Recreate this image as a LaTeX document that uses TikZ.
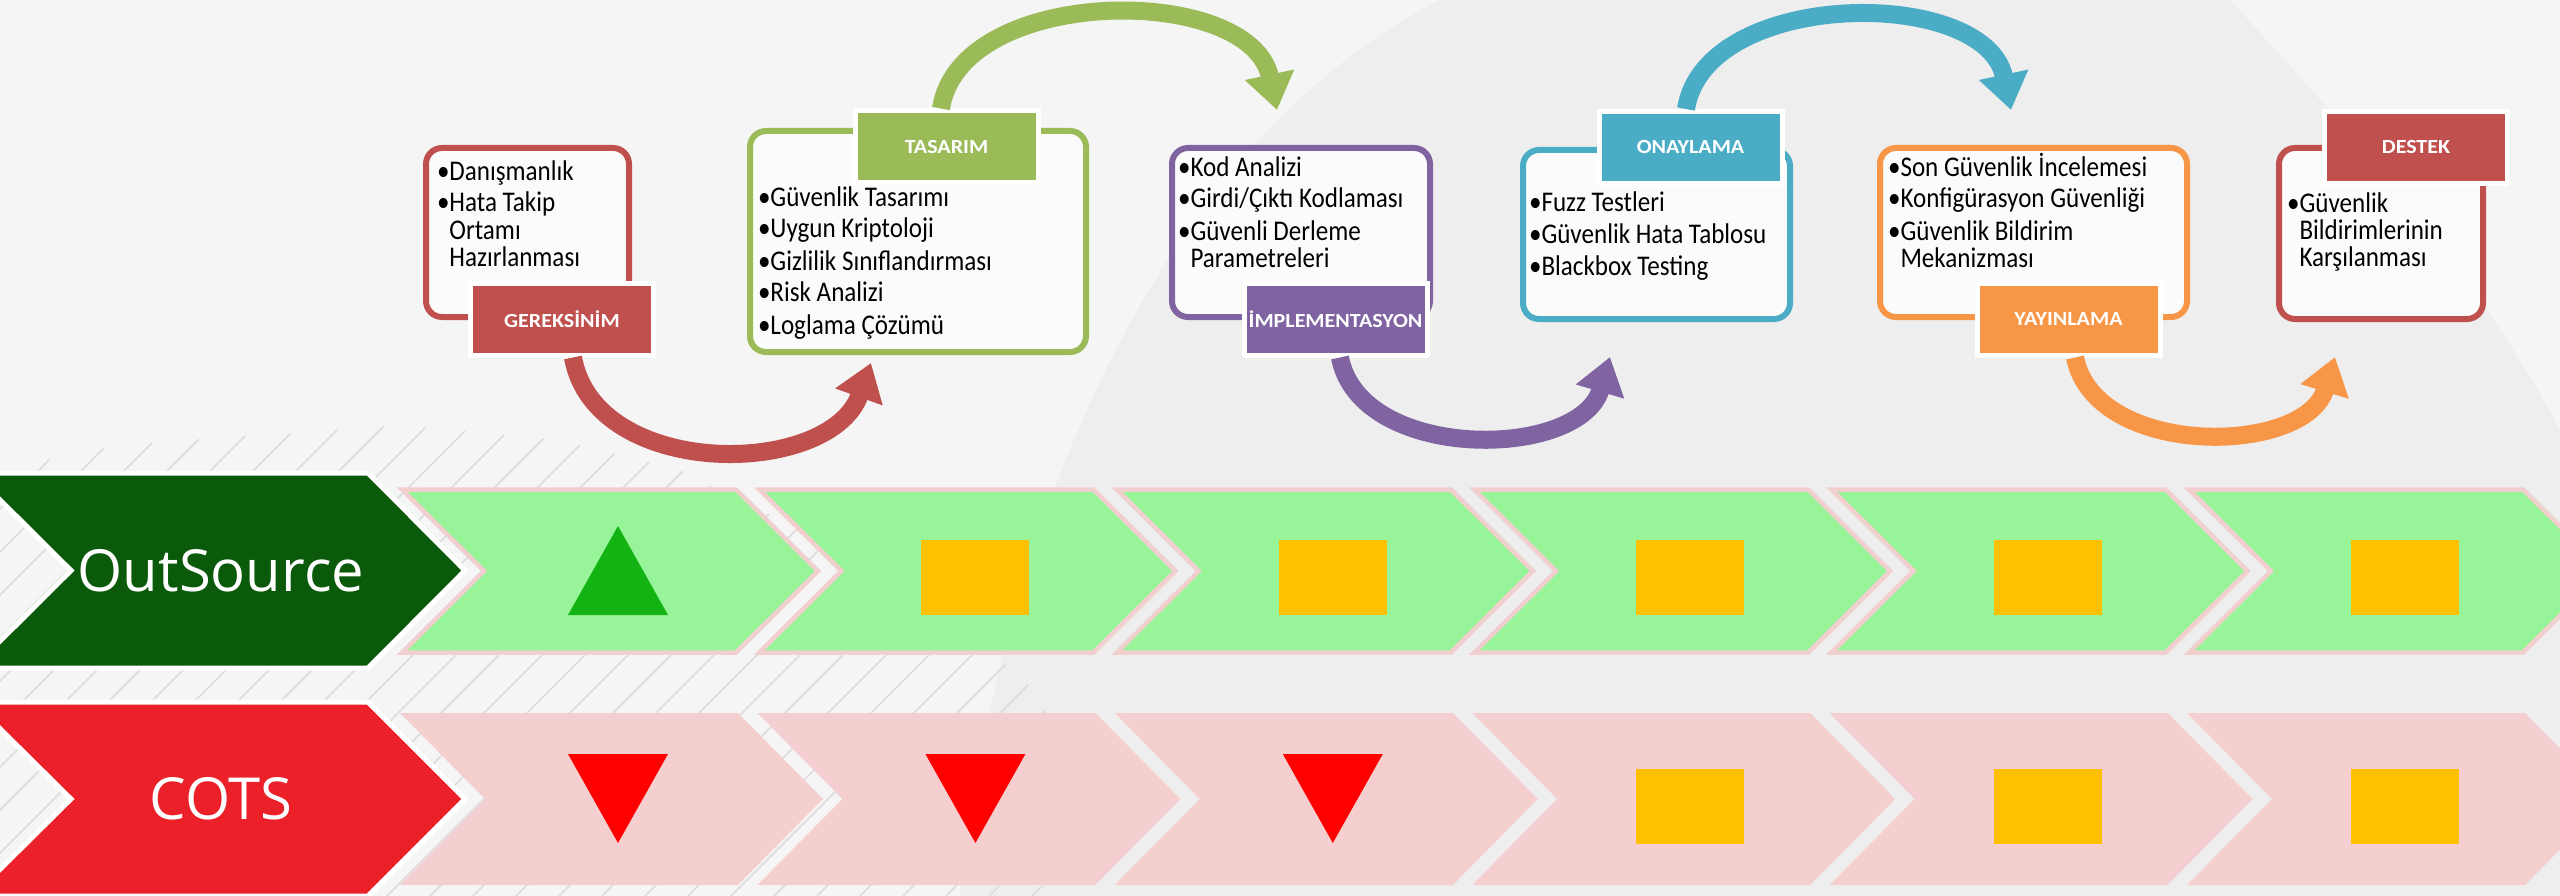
\documentclass[tikz,border=0pt]{standalone}
\usepackage{fontspec}
\setmainfont{Carlito}
\newfontfamily\itemfont[FakeStretch=0.88]{Carlito}
\newfontfamily\tagfont[FakeStretch=1.1]{Carlito}
\newfontfamily\rowfont{Open Sans}
\usetikzlibrary{arrows.meta}

\definecolor{bgback}{HTML}{F5F5F5}
\definecolor{bgdark}{HTML}{EEEEEE}
\definecolor{hatchgray}{HTML}{DCDCDC}
\definecolor{boxfill}{HTML}{FBFBFB}
\definecolor{reqred}{HTML}{C0504D}
\definecolor{desgreen}{HTML}{9BBB59}
\definecolor{impurple}{HTML}{8064A2}
\definecolor{valblue}{HTML}{4BACC6}
\definecolor{relorange}{HTML}{F79646}
\definecolor{outgreen}{HTML}{0B5A0B}
\definecolor{cotsred}{HTML}{EC2028}
\definecolor{lightgreen}{HTML}{98F498}
\definecolor{lightpink}{HTML}{F5CFCF}
\definecolor{edgepink}{HTML}{F2CFCF}
\definecolor{markamber}{HTML}{FFC000}
\definecolor{markgreen}{HTML}{12B312}
\definecolor{markred}{HTML}{FF0000}

\newcommand{\hang}{\hphantom{•}}
\newcommand{\first}{\rule{0pt}{25pt}}

\tikzset{
    stage/.style={draw=#1, line width=6pt, rounded corners=16pt, fill=boxfill, inner sep=0pt},
    tag/.style={fill=#1, draw=white, line width=5pt, minimum width=183pt, minimum height=72pt,
        inner sep=0pt, text=white, font=\tagfont\bfseries\fontsize{20}{22}\selectfont},
    items/.style={anchor=north west, align=left, inner sep=0pt, outer sep=0pt,
        font=\itemfont\fontsize{28.5}{27}\selectfont},
    flow/.style={draw=#1, line width=18pt, -{Triangle[width=48pt,length=36pt]}},
    rowtag/.style={text=white, inner sep=0pt, font=\rowfont\fontsize{58}{64}\selectfont}
}

\begin{document}
\begin{tikzpicture}[x=1pt,y=-1pt]
        % Define dimensions
        \def\pitch{357.4}
        \def\spread{334}
        \def\depth{82}
        \useasboundingbox (0,0) rectangle (2560,896);
        % Draw background
        \fill[bgback] (0,0) rectangle (2560,896);
        \fill[bgdark] (960,896) .. controls (1010,450) and (1200,120) .. (1440,0) -- (2230,0)
            .. controls (2330,110) and (2470,260) .. (2560,430) -- (2560,896) -- cycle;
        \begin{scope}
            \clip (0,470) -- (120,445) -- (400,425) -- (560,440) -- (680,470) -- (860,560)
                -- (1000,660) -- (1045,700) -- (1045,896) -- (0,896) -- cycle;
            \foreach \h in {-11,...,25}
                \draw[hatchgray, line width=1.6pt] ({\h*43},896) -- ++(500,-500);
        \end{scope}
        % Draw row banners
        \filldraw[fill=outgreen, draw=white, line width=5pt] (-27,473) -- (368,473) -- (465,570.5)
            -- (368,668) -- (-27,668) -- (71,570.5) -- cycle;
        \filldraw[fill=cotsred, draw=white, line width=5pt] (-27,702) -- (368,702) -- (465,799)
            -- (368,896) -- (-27,896) -- (71,799) -- cycle;
        \node[rowtag] (outs) at (221,571) {OutSource};
        \node[rowtag] (cots) at (221,799) {COTS};
        % Draw phase chevrons
        \foreach \i in {0,...,5} {
            \pgfmathsetmacro{\x}{400+\pitch*\i}
            \filldraw[fill=lightgreen, draw=edgepink, line width=4.5pt] (\x+2,489.5) -- ++(\spread,0)
                -- ++(\depth,81.5) -- ++(-\depth,81.5) -- ++(-\spread,0) -- ++(\depth,-81.5) -- cycle;
            \fill[lightpink] (\x,713) -- ++(338,0) -- ++(85,86) -- ++(-85,86) -- ++(-338,0)
                -- ++(85,-86) -- cycle;
        }
        % Draw markers
        \fill[markgreen] (618,526) -- (668,615) -- (568,615) -- cycle;
        \foreach \i in {1,...,5}
            \fill[markamber] ({618+\pitch*\i-54},540) rectangle ++(108,75);
        \foreach \i in {0,1,2}
            \fill[markred] ({618+\pitch*\i-50},754) -- ++(100,0) -- ++(-50,89) -- cycle;
        \foreach \i in {3,4,5}
            \fill[markamber] ({618+\pitch*\i-54},769) rectangle ++(108,75);
        % Draw phase boxes
        \node[stage=reqred, minimum width=203pt, minimum height=169pt] (b1) at (527.5,232.5) {};
        \node[stage=desgreen, minimum width=336pt, minimum height=221pt] (b2) at (918,241.5) {};
        \node[stage=impurple, minimum width=258pt, minimum height=169pt] (b3) at (1301,232.5) {};
        \node[stage=valblue, minimum width=267pt, minimum height=169pt] (b4) at (1656.5,234.5) {};
        \node[stage=relorange, minimum width=307pt, minimum height=169pt] (b5) at (2033.5,232.5) {};
        \node[stage=reqred, minimum width=204pt, minimum height=171pt] (b6) at (2381,233.5) {};
        % Box texts
        \node[items] (x1) at (437,155) {\first •Danışmanlık\\[5pt]•Hata Takip\\\hang Ortamı\\\hang Hazırlanması};
        \node[items] (x2) at (758,181) {\first •Güvenlik Tasarımı\\[5pt]•Uygun Kriptoloji\\[5pt]•Gizlilik Sınıflandırması\\[5pt]•Risk Analizi\\[5pt]•Loglama Çözümü};
        \node[items] (x3) at (1178,151) {\first •Kod Analizi\\[5pt]•Girdi/Çıktı Kodlaması\\[5pt]•Güvenli Derleme\\\hang Parametreleri};
        \node[items] (x4) at (1529,187) {\first •Fuzz Testleri\\[5pt]•Güvenlik Hata Tablosu\\[5pt]•Blackbox Testing};
        \node[items] (x5) at (1888,151) {\first •Son Güvenlik İncelemesi\\[5pt]•Konfigürasyon Güvenliği\\[5pt]•Güvenlik Bildirim\\\hang Mekanizması};
        \node[items] (x6) at (2287,187) {\first •Güvenlik\\\hang Bildirimlerinin\\\hang Karşılanması};
        % Phase tags
        \node[tag=reqred] (t1) at (562,319) {GEREKSİNİM};
        \node[tag=desgreen] (t2) at (946.5,147) {TASARIM};
        \node[tag=impurple] (t3) at (1335.5,319) {İMPLEMENTASYON};
        \node[tag=valblue] (t4) at (1690.5,147.5) {ONAYLAMA};
        \node[tag=relorange] (t5) at (2068.5,319) {YAYINLAMA};
        \node[tag=reqred] (t6) at (2416,147.5) {DESTEK};
        % Flow arrows
        \draw[flow=reqred] ([xshift=11pt]t1.south) .. controls +(22,123) and +(-41,115) .. ([shift={(-47,8)}]b2.south);
        \draw[flow=desgreen] ([xshift=-5.5pt]t2.north) .. controls +(19,-124) and +(-27,-127) .. ([shift={(-24,-35)}]b3.north);
        \draw[flow=impurple] ([xshift=4.5pt]t3.south) .. controls +(20,105) and +(-30,103) .. ([shift={(-46.5,35)}]b4.south);
        \draw[flow=valblue] ([xshift=-4.5pt]t4.north) .. controls +(19,-121) and +(-26,-124) .. ([shift={(-22.5,-35)}]b5.north);
        \draw[flow=relorange] ([xshift=6.5pt]t5.south) .. controls +(20,101) and +(-30,99) .. ([shift={(-46,35)}]b6.south);
    \end{tikzpicture}
\end{document}
